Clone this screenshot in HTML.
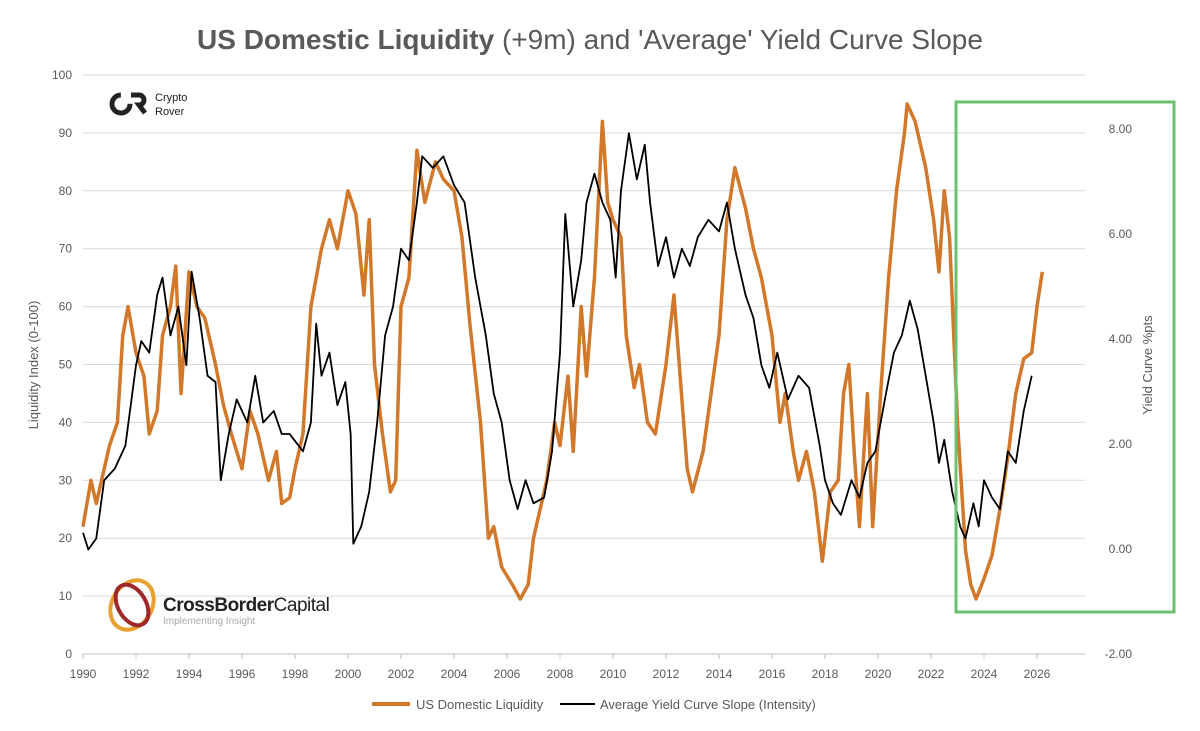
<!DOCTYPE html>
<html><head><meta charset="utf-8"><style>
body{margin:0;background:#fff;width:1200px;height:726px;overflow:hidden;font-family:"Liberation Sans",sans-serif}
</style></head><body>
<svg id="chart" width="1200" height="726" xmlns="http://www.w3.org/2000/svg" font-family="Liberation Sans, sans-serif">
<text x="590" y="49" text-anchor="middle" font-size="28" fill="#595959"><tspan font-weight="bold">US Domestic Liquidity</tspan> (+9m) and 'Average' Yield Curve Slope</text>
<g id="grid"></g>
<text transform="translate(38,365) rotate(-90)" text-anchor="middle" font-size="13" fill="#595959">Liquidity Index (0-100)</text>
<text transform="translate(1152,365) rotate(-90)" text-anchor="middle" font-size="13" fill="#595959">Yield Curve %pts</text>
<g>
<circle cx="121" cy="104" r="9" fill="none" stroke="#222" stroke-width="5" stroke-dasharray="42 14"/>
<path d="M131 95 h8 a5 5 0 0 1 0 10 l6 8" fill="none" stroke="#222" stroke-width="5"/>
<text x="155" y="101" font-size="11" fill="#222">Crypto</text><text x="155" y="115" font-size="11" fill="#222">Rover</text>
</g>
<g>
<ellipse cx="132" cy="605" rx="20" ry="26" fill="none" stroke="#e8a030" stroke-width="4" transform="rotate(30 132 605)"/>
<ellipse cx="132" cy="605" rx="14" ry="22" fill="none" stroke="#a0282a" stroke-width="4" transform="rotate(-30 132 605)"/>
<text x="163" y="611" font-size="19" font-weight="bold" fill="#222" letter-spacing="-0.5">CrossBorder<tspan font-weight="normal">Capital</tspan></text>
<text x="163" y="624" font-size="10" fill="#aaa">Implementing Insight</text>
</g>
<g id="series"></g>
<rect x="956" y="102" width="218" height="510" fill="none" stroke="#6cc070" stroke-width="3"/>
<g>
<line x1="372" y1="704" x2="410" y2="704" stroke="#d2782a" stroke-width="4"/>
<text x="416" y="709" font-size="13" fill="#595959">US Domestic Liquidity</text>
<line x1="560" y1="704" x2="595" y2="704" stroke="#000" stroke-width="2"/>
<text x="600" y="709" font-size="13" fill="#595959">Average Yield Curve Slope (Intensity)</text>
</g>
</svg>
<script>
const liqYears=[1990,1990.3,1990.5,1991,1991.3,1991.5,1991.7,1992,1992.3,1992.5,1992.8,1993,1993.3,1993.5,1993.7,1994,1994.3,1994.6,1995,1995.3,1995.6,1996,1996.3,1996.6,1997,1997.3,1997.5,1997.8,1998,1998.3,1998.6,1999,1999.3,1999.6,2000,2000.3,2000.6,2000.8,2001,2001.3,2001.6,2001.8,2002,2002.3,2002.6,2002.9,2003.3,2003.6,2004,2004.3,2004.6,2005,2005.3,2005.5,2005.8,2006.2,2006.5,2006.8,2007,2007.5,2007.8,2008,2008.3,2008.5,2008.8,2009,2009.3,2009.6,2009.8,2010,2010.3,2010.5,2010.8,2011,2011.3,2011.6,2012,2012.3,2012.5,2012.8,2013,2013.4,2013.7,2014,2014.3,2014.6,2015,2015.3,2015.6,2016,2016.3,2016.5,2016.8,2017,2017.3,2017.6,2017.9,2018.2,2018.5,2018.7,2018.9,2019.1,2019.3,2019.6,2019.8,2020.1,2020.4,2020.7,2021,2021.1,2021.4,2021.8,2022.1,2022.3,2022.5,2022.7,2023,2023.3,2023.5,2023.7,2024,2024.3,2024.6,2024.9,2025.2,2025.5,2025.8,2026,2026.2];
const liqValues=[22,30,26,36,40,55,60,52,48,38,42,55,60,67,45,66,60,58,50,43,38,32,42,38,30,35,26,27,32,38,60,70,75,70,80,76,62,75,50,38,28,30,60,65,87,78,85,82,80,72,57,40,20,22,15,12,9.5,12,20,30,40,36,48,35,60,48,65,92,78,75,72,55,46,50,40,38,50,62,50,32,28,35,45,55,75,84,77,70,65,55,40,45,35,30,35,28,16,28,30,45,50,35,22,45,22,45,65,80,90,95,92,84,75,66,80,72,40,18,12,9.5,13,17,25,34,45,51,52,60,66];
const ycYears=[1990,1990.2,1990.5,1990.8,1991.2,1991.6,1992,1992.2,1992.5,1992.8,1993,1993.3,1993.6,1993.9,1994.1,1994.4,1994.7,1995,1995.2,1995.5,1995.8,1996.2,1996.5,1996.8,1997.2,1997.5,1997.8,1998.3,1998.6,1998.8,1999,1999.3,1999.6,1999.9,2000.1,2000.2,2000.5,2000.8,2001.1,2001.4,2001.7,2002,2002.3,2002.6,2002.8,2003.2,2003.6,2004,2004.4,2004.8,2005.2,2005.5,2005.8,2006.1,2006.4,2006.7,2007,2007.4,2007.7,2008,2008.2,2008.5,2008.8,2009,2009.3,2009.6,2009.9,2010.1,2010.3,2010.6,2010.9,2011.2,2011.4,2011.7,2012,2012.3,2012.6,2012.9,2013.2,2013.6,2014,2014.3,2014.6,2015,2015.3,2015.6,2015.9,2016.2,2016.6,2017,2017.4,2017.8,2018,2018.3,2018.6,2019,2019.3,2019.6,2019.9,2020.3,2020.6,2020.9,2021.2,2021.5,2021.8,2022.1,2022.3,2022.5,2022.8,2023.1,2023.3,2023.6,2023.8,2024,2024.3,2024.6,2024.9,2025.2,2025.5,2025.8];
const ycValues=[0.31,-0.01,0.2,1.31,1.53,1.97,3.5,3.96,3.74,4.84,5.17,4.07,4.62,3.5,5.28,4.4,3.3,3.18,1.31,2.19,2.85,2.41,3.3,2.41,2.63,2.19,2.19,1.86,2.41,4.29,3.3,3.74,2.74,3.18,2.19,0.1,0.43,1.09,2.41,4.07,4.62,5.72,5.5,6.6,7.48,7.26,7.48,6.93,6.6,5.17,4.07,2.96,2.41,1.31,0.76,1.31,0.87,0.98,1.86,3.74,6.38,4.62,5.5,6.6,7.15,6.6,6.27,5.17,6.82,7.92,7.04,7.7,6.6,5.39,5.94,5.17,5.72,5.39,5.94,6.27,6.05,6.6,5.72,4.84,4.4,3.5,3.07,3.74,2.85,3.3,3.07,1.97,1.31,0.87,0.65,1.31,0.98,1.64,1.86,2.96,3.74,4.07,4.73,4.18,3.3,2.41,1.64,2.08,1.09,0.43,0.2,0.87,0.43,1.31,0.98,0.76,1.86,1.64,2.63,3.3];
const leftTicks=[0,10,20,30,40,50,60,70,80,90,100];
const rightTicks=[-2,0,2,4,6,8];
const xTicks=[1990,1992,1994,1996,1998,2000,2002,2004,2006,2008,2010,2012,2014,2016,2018,2020,2022,2024,2026];
const NS="http://www.w3.org/2000/svg";
const xS=y=>83+(y-1990)*26.5;
const yL=v=>654-v*5.79;
const yR=v=>549-v*52.5;
function mk(tag,attrs,parent){const e=document.createElementNS(NS,tag);for(const k in attrs)e.setAttribute(k,attrs[k]);parent.appendChild(e);return e;}
const grid=document.getElementById('grid');
leftTicks.forEach(t=>{
 const l=mk('line',{x1:83,x2:1085,y1:yL(t),y2:yL(t),stroke:t===0?'#bfbfbf':'#d9d9d9','stroke-width':1},grid);
 
 
 const tx=mk('text',{x:72,y:yL(t)+4,'text-anchor':'end','font-size':12,fill:'#595959'},grid);
 tx.textContent=t;
 
 
});
rightTicks.forEach(t=>{
 const tx=mk('text',{x:1132,y:yR(t)+4,'text-anchor':'end','font-size':12,fill:'#595959'},grid);
 tx.textContent=t.toFixed(2);
 
 
});
xTicks.forEach(t=>{
 const tk=mk('line',{x1:xS(t),x2:xS(t),y1:654,y2:659,stroke:'#bfbfbf'},grid);
 
 
 const tx=mk('text',{x:xS(t),y:678,'text-anchor':'middle','font-size':12,fill:'#595959'},grid);
 tx.textContent=t;
 
 
});
const s=document.getElementById('series');
const p1=mk('polyline',{points:liqYears.map((y,i)=>xS(y)+','+yL(liqValues[i])).join(' '),fill:'none',stroke:'#d2782a','stroke-width':3.5,'stroke-linejoin':'round'},s);


const p2=mk('polyline',{points:ycYears.map((y,i)=>xS(y)+','+yR(ycValues[i])).join(' '),fill:'none',stroke:'#000','stroke-width':1.8,'stroke-linejoin':'round'},s);


</script>
</body></html>
